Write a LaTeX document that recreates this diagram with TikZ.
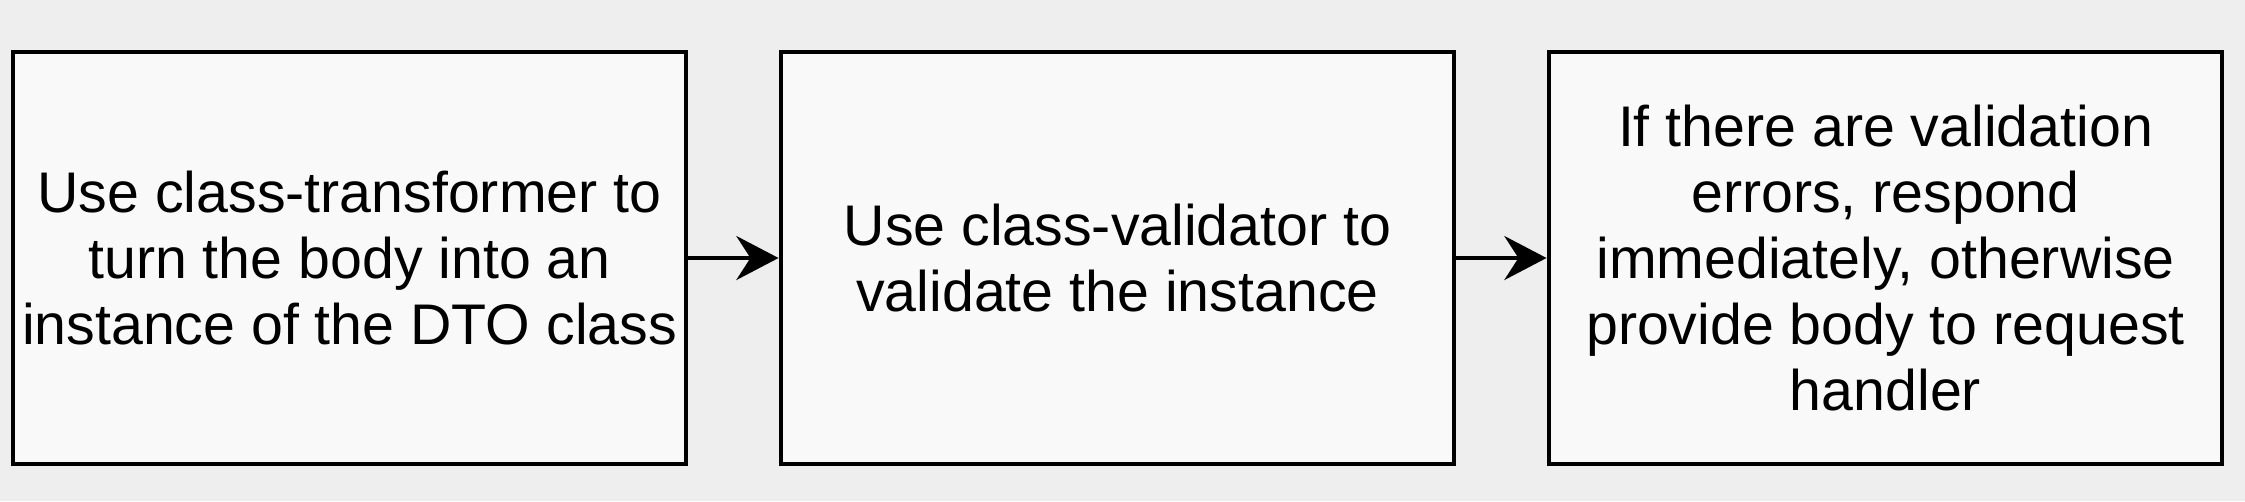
\documentclass[tikz,border=0pt]{standalone}
\usepackage{fontspec}
\setmainfont{Liberation Sans}
\usetikzlibrary{arrows.meta}
\definecolor{bggray}{HTML}{EEEEEE}
\definecolor{boxfill}{HTML}{F9F9F9}
\begin{document}
\begin{tikzpicture}[
    stepbox/.style={draw, line width=1.4pt, fill=boxfill, minimum width=6.73cm, minimum height=4.12cm,
        align=center, inner sep=0pt, font=\fontsize{16.3pt}{18.8pt}\selectfont},
    flow/.style={-{Stealth[length=12pt,width=12.5pt,inset=4pt]}, line width=1.3pt}
]
    \fill[bggray] (0,0) rectangle (22.45,5.01);
    \useasboundingbox (0,0) rectangle (22.45,5.01);
    \node[stepbox] (transform) at (3.495,2.43) {Use class-transformer to\\turn the body into an\\instance of the DTO class};
    \node[stepbox] (validate) at (11.175,2.43) {Use class-validator to\\validate the instance};
    \node[stepbox] (respond) at (18.855,2.43) {If there are validation\\errors, respond\\immediately, otherwise\\provide body to request\\handler};
    \draw[flow] (transform) -- (validate);
    \draw[flow] (validate) -- (respond);
\end{tikzpicture}
\end{document}
